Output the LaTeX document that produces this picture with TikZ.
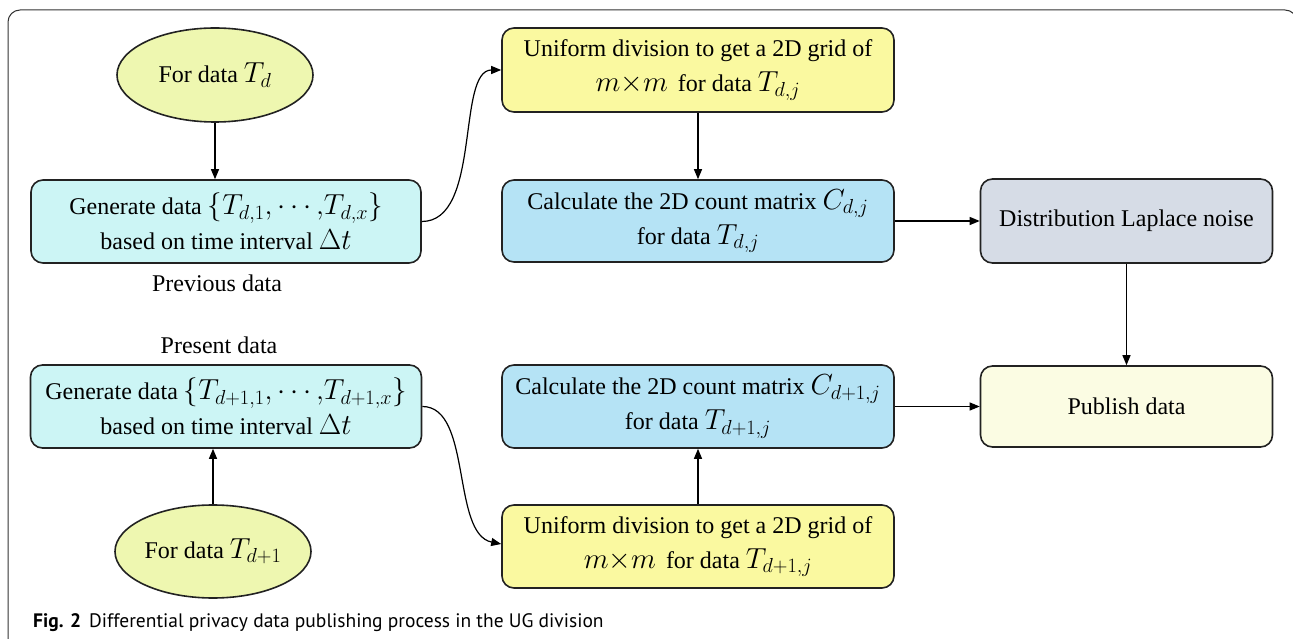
\RequirePackage{fix-cm}
\documentclass[tikz,border=0pt]{standalone}
\usepackage{fontspec}
\setmainfont{Liberation Serif}
\newfontfamily\capfont{PT Sans}
\usetikzlibrary{shapes.geometric,arrows.meta}
\definecolor{ellcol}{HTML}{EEF7B0}
\definecolor{yelcol}{HTML}{FAF9A0}
\definecolor{cyacol}{HTML}{CCF5F5}
\definecolor{blucol}{HTML}{B5E3F5}
\definecolor{grecol}{HTML}{D6DCE6}
\definecolor{pubcol}{HTML}{FBFCE3}
\definecolor{edgecol}{HTML}{222222}
\newcommand\mth[1]{{\fontsize{29}{29}\selectfont$#1$}}
\tikzset{
  every node/.style={font=\fontsize{24}{29}\selectfont},
  ell/.style={ellipse, draw=edgecol, line width=1.6pt, fill=ellcol, minimum width=196pt, minimum height=94pt, inner sep=0pt},
  rbox/.style={rectangle, rounded corners=12pt, draw=edgecol, line width=1.6pt, align=center, minimum width=392pt, minimum height=83pt, inner sep=0pt},
  sbox/.style={rbox, minimum width=292pt},
  arr/.style={-{Triangle[length=10pt,width=8pt]}, line width=1.2pt, draw=black},
  plain/.style={inner sep=0pt}
}
\begin{document}
\begin{tikzpicture}[x=1pt,y=1pt]
\useasboundingbox (0,0) rectangle (1293,638);
\begin{scope}
\clip (0,0) rectangle (1293,638);
\draw[line width=1pt, rounded corners=12pt, draw=black!80] (8,-40) |- (1297,628) -- (1297,-40);
\end{scope}
% top row
\node[ell] (e1) at (215,563) {For data \mth{T_d}};
\node[rbox, fill=cyacol, minimum width=390pt] (a) at (226,416.5) {Generate data \mth{\{T_{d,1}{,}\cdots{,}T_{d,x}\}}\\[6pt] based on time interval \mth{\Delta t}};
\node[plain] (prev) at (217,355) {Previous data};
\node[rbox, fill=yelcol, minimum height=84pt] (y1) at (698,568) {Uniform division to get a 2D grid of\\[6pt] \mth{m{\times}m}\, for data \mth{T_{d,j}}};
\node[rbox, fill=blucol, minimum height=82pt] (b1) at (698,417) {Calculate the 2D count matrix \mth{C_{d,j}}\\[6pt] for data \mth{T_{d,j}}};
\node[sbox, fill=grecol, minimum height=84pt] (g) at (1126.5,417) {Distribution Laplace noise};
% bottom row
\node[plain] (pres) at (219,293) {Present data};
\node[rbox, fill=cyacol, minimum width=391pt] (b) at (226,231.5) {Generate data \mth{\{T_{d+1,1}{,}\cdots{,}T_{d+1,x}\}}\\[6pt] based on time interval \mth{\Delta t}};
\node[ell, minimum height=93pt] (e2) at (213,86.5) {For data \mth{T_{d+1}}};
\node[rbox, fill=blucol] (b2) at (698,231.5) {Calculate the 2D count matrix \mth{C_{d+1,j}}\\[6pt] for data \mth{T_{d+1,j}}};
\node[sbox, fill=pubcol, minimum height=81pt] (p) at (1126.5,231.5) {Publish data};
\node[rbox, fill=yelcol] (y2) at (698,91.5) {Uniform division to get a 2D grid of\\[6pt] \mth{m{\times}m}\, for data \mth{T_{d+1,j}}};
% caption
\node[plain, anchor=base west, font=\capfont\fontsize{19.5}{24}\selectfont] (cap) at (33,11) {\textbf{Fig. 2}\hspace{8pt}Differential privacy data publishing process in the UG division};
% connectors
\draw[arr] (e1.south) -- (a.north -| e1.south);
\draw[arr] (a.east) .. controls +(60,0) and +(-45,0) .. (y1.west);
\draw[arr] (y1.south) -- (b1.north);
\draw[arr] (b1.east) -- (g.west);
\draw[arr] (g.south) -- (p.north);
\draw[arr] (e2.north) -- (b.south -| e2.north);
\draw[arr] (b.east) .. controls +(50,0) and +(-50,10) .. ([yshift=2.5pt]y2.west);
\draw[arr] (y2.north) -- (b2.south);
\draw[arr] (b2.east) -- (p.west);
\end{tikzpicture}
\end{document}
